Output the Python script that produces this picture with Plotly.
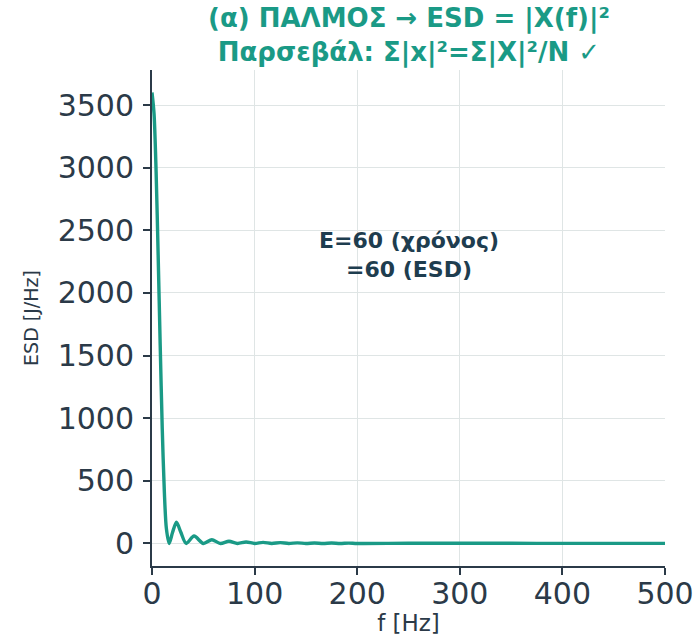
import plotly.graph_objects as go

# Energy spectral density of a rectangular pulse (60 samples, fs = 1 kHz)
freq_hz = [0, 2, 4, 6, 8, 10, 12, 14, 16.7,
           20, 23.8, 28, 33.3,
           41, 50, 58.3, 66.7, 75, 83.3, 91.7, 100,
           108.3, 116.7, 125, 133.3, 141.7, 150, 158.3, 166.7,
           175, 183.3, 191.7, 200, 250, 300, 350, 400, 450, 500]
esd_values = [3600, 3430, 2970, 2300, 1580, 915, 420, 120, 0,
              87, 170, 91, 0,
              59, 0, 30, 0, 18, 0, 12, 0,
              8.5, 0, 6.4, 0, 5, 0, 4, 0,
              3.3, 0, 2.8, 0, 1.6, 1.2, 1.1, 1, 1, 1]

x_ticks = [0, 100, 200, 300, 400, 500]
y_ticks = [0, 500, 1000, 1500, 2000, 2500, 3000, 3500]

title_text = "(α) ΠΑΛΜΟΣ → ESD = |X(f)|²<br>Παρσεβάλ: Σ|x|²=Σ|X|²/N ✓"
energy_note = "E=60 (χρόνος)<br>=60 (ESD)"

teal = "#1a9a86"
ink = "#2b3a48"
grid = "#dfe5e5"
font = "DejaVu Sans"

fig = go.Figure()
fig.add_trace(go.Scatter(
    x=freq_hz, y=esd_values, mode="lines",
    line=dict(color=teal, width=3.4, shape="spline", smoothing=0.8),
    showlegend=False, hoverinfo="skip",
))

# energy check note inside the axes
fig.add_annotation(
    x=250, y=2300, xref="x", yref="y",
    text=f"<b>{energy_note}</b>", showarrow=False,
    font=dict(family=font, size=22, color="#1e3d4f"),
    align="center",
)

# two-line heading centred over the axes
fig.add_annotation(
    x=0.5, y=1.14, xref="paper", yref="paper",
    xanchor="center", yanchor="top",
    text=f"<b>{title_text}</b>", showarrow=False,
    font=dict(family=font, size=26, color=teal),
    align="center",
)

axis_common = dict(
    showline=True, linecolor=ink, linewidth=2,
    ticks="outside", ticklen=7, tickwidth=2, tickcolor=ink,
    showgrid=True, gridcolor=grid, gridwidth=1.2,
    zeroline=False, automargin=False,
    tickfont=dict(family=font, size=30, color=ink),
)

fig.update_layout(
    width=695, height=636,
    margin=dict(l=152, r=30, t=70, b=70),
    paper_bgcolor="white", plot_bgcolor="white",
    xaxis=dict(
        range=[0, 500], tickvals=x_ticks, ticklabelstandoff=-7,
        title=dict(text="f [Hz]", font=dict(family=font, size=23, color=ink), standoff=4),
        **axis_common,
    ),
    yaxis=dict(
        range=[-180, 3780], tickvals=y_ticks, ticklabelstandoff=3,
        title=dict(text="ESD [J/Hz]", font=dict(family=font, size=19, color=ink), standoff=14),
        **axis_common,
    ),
)

fig.write_html("out.html")
